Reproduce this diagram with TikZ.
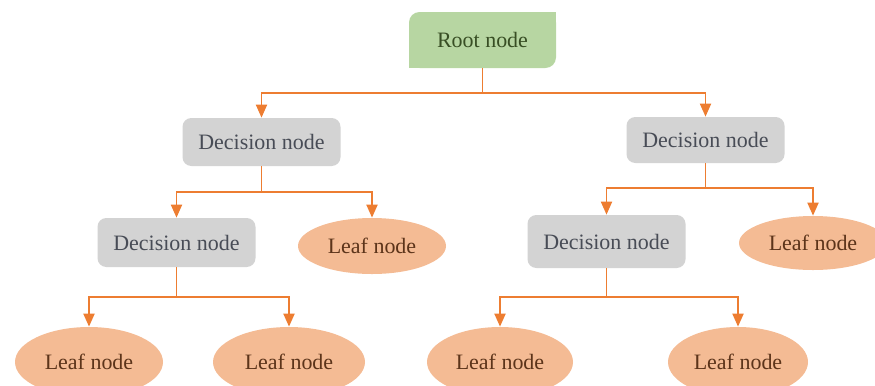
\documentclass[tikz,border=0pt]{standalone}
\usepackage{fontspec}
\setmainfont{Liberation Serif}
\usepackage{xcolor}
\usepackage{tikz}
\usetikzlibrary{shapes.geometric,arrows.meta,positioning,calc}
\definecolor{treeorange}{RGB}{237,125,49}
\definecolor{leaffill}{RGB}{244,187,148}
\definecolor{decfill}{RGB}{211,211,211}
\definecolor{rootfill}{RGB}{183,214,162}
\definecolor{dectext}{RGB}{72,76,86}
\definecolor{leaftext}{RGB}{92,52,26}
\definecolor{roottext}{RGB}{56,78,36}

\begin{document}
\begin{tikzpicture}[
rootbox/.style={fill=rootfill, rounded corners=6pt, minimum width=2.94cm, minimum height=1.12cm,
text=roottext, font=\fontsize{12.5}{14}\selectfont},
decbox/.style={fill=decfill, rounded corners=5pt, minimum width=3.16cm, minimum height=0.96cm,
text=dectext, font=\fontsize{12.5}{14}\selectfont},
leaf/.style={ellipse, fill=leaffill, minimum width=2.96cm, minimum height=1.12cm, inner sep=0pt,
text=leaftext, font=\fontsize{12.5}{14}\selectfont},
arrow/.style={-{Triangle[length=2.6mm,width=2.2mm]}, line width=1.1pt, draw=treeorange}
]
\useasboundingbox (0,0) rectangle (17.5,-7.7);
\clip (0,0) rectangle (17.5,-7.7);

\node[rootbox] (root) at (9.65,-0.8) {Root node};
% square off two corners of the root box
\fill[rootfill] (root.north east) rectangle ++(-7pt,-7pt);
\fill[rootfill] (root.south west) rectangle ++(7pt,7pt);

\node[decbox] (d1) at (5.23,-2.84) {Decision node};
\node[decbox, minimum height=0.92cm] (d2) at (14.11,-2.8) {Decision node};

\node[decbox, minimum height=0.98cm] (d3) at (3.53,-4.85) {Decision node};
\node[leaf] (l1) at (7.44,-4.92) {Leaf node};
\node[decbox, minimum height=1.06cm] (d4) at (12.13,-4.83) {Decision node};
\node[leaf, minimum height=1.08cm] (l2) at (16.26,-4.86) {Leaf node};

\node[leaf, minimum height=1.4cm] (l3) at (1.78,-7.24) {Leaf node};
\node[leaf, minimum height=1.4cm, minimum width=3.04cm] (l4) at (5.78,-7.24) {Leaf node};
\node[leaf, minimum height=1.4cm, minimum width=2.92cm] (l5) at (10,-7.24) {Leaf node};
\node[leaf, minimum height=1.4cm, minimum width=2.8cm] (l6) at (14.76,-7.24) {Leaf node};

\draw[arrow] (root.south) -- ++(0,-0.5) -| (d1.north);
\draw[arrow] (root.south) -- ++(0,-0.5) -| (d2.north);

\draw[arrow] (d1.south) -- ++(0,-0.52) -| (d3.north);
\draw[arrow] (d1.south) -- ++(0,-0.52) -| (l1.north);

\draw[arrow] (d2.south) -- ++(0,-0.5) -| (d4.north);
\draw[arrow] (d2.south) -- ++(0,-0.5) -| (l2.north);

\draw[arrow] (d3.south) -- ++(0,-0.6) -| (l3.north);
\draw[arrow] (d3.south) -- ++(0,-0.6) -| (l4.north);

\draw[arrow] (d4.south) -- ++(0,-0.58) -| (l5.north);
\draw[arrow] (d4.south) -- ++(0,-0.58) -| (l6.north);

\end{tikzpicture}
\end{document}
